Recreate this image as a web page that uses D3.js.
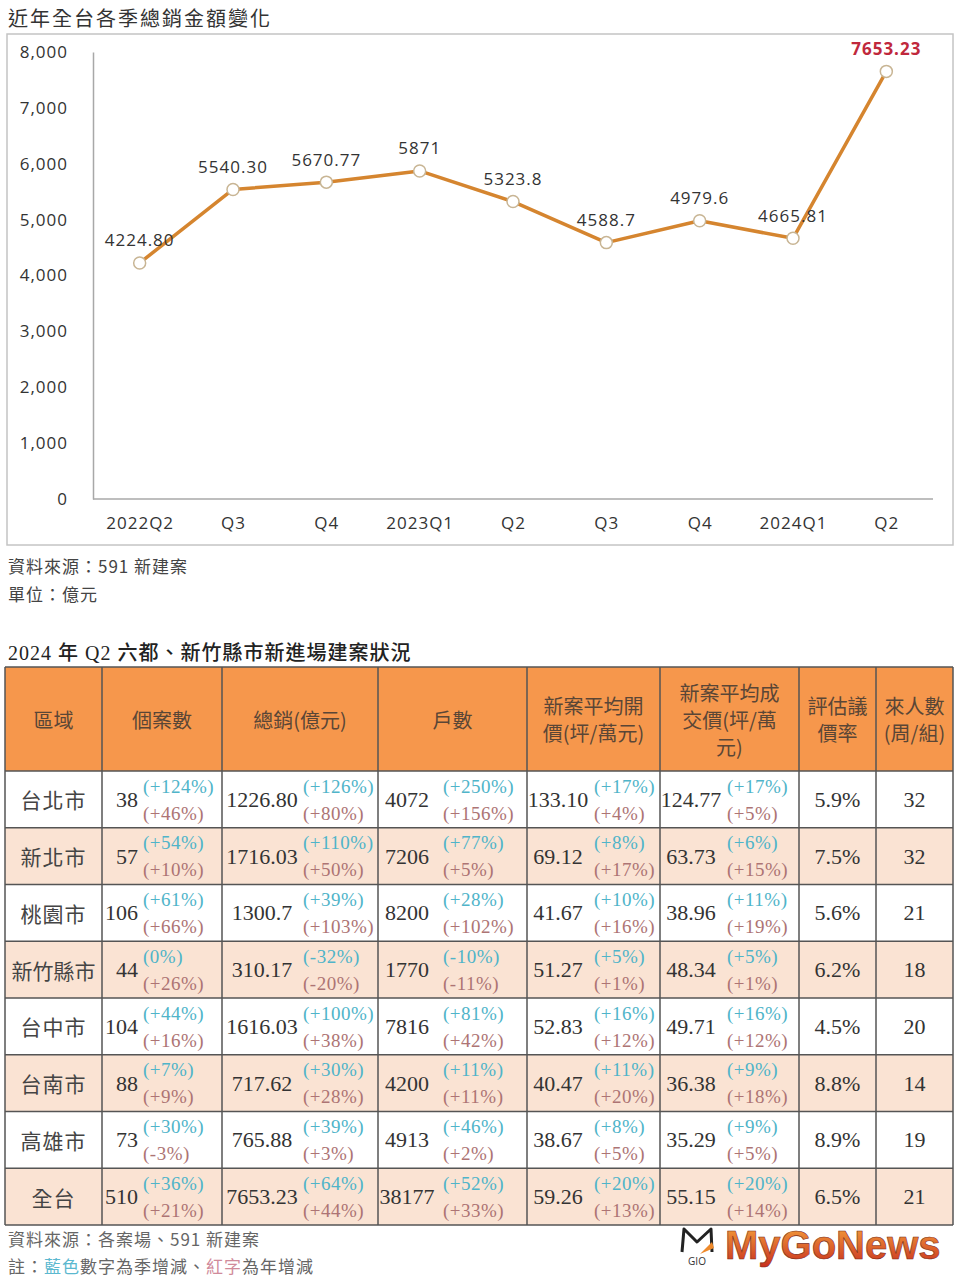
<!DOCTYPE html>
<html><head><meta charset="utf-8">
<script src="https://cdn.jsdelivr.net/npm/d3@7"></script>
<style>body{margin:0;background:#fff;} svg{display:block;}</style>
</head><body>
<script>
// ---------- data ----------
const quarterLabels = ['2022Q2','Q3','Q4','2023Q1','Q2','Q3','Q4','2024Q1','Q2'];
const totals = [4224.80, 5540.30, 5670.77, 5871, 5323.8, 4588.7, 4979.6, 4665.81, 7653.23];
const totalLabels = ['4224.80','5540.30','5670.77','5871','5323.8','4588.7','4979.6','4665.81','7653.23'];
const yTicks = [0,1000,2000,3000,4000,5000,6000,7000,8000];

const headers = [['區域'],['個案數'],['總銷(億元)'],['戶數'],['新案平均開','價(坪/萬元)'],['新案平均成','交價(坪/萬','元)'],['評估議','價率'],['來人數','(周/組)']];
const regions = ['台北市','新北市','桃園市','新竹縣市','台中市','台南市','高雄市','全台'];
const cases   = ['38','57','106','44','104','88','73','510'];
const casesQ  = ['+124%','+54%','+61%','0%','+44%','+7%','+30%','+36%'];
const casesY  = ['+46%','+10%','+66%','+26%','+16%','+9%','-3%','+21%'];
const sales   = ['1226.80','1716.03','1300.7','310.17','1616.03','717.62','765.88','7653.23'];
const salesQ  = ['+126%','+110%','+39%','-32%','+100%','+30%','+39%','+64%'];
const salesY  = ['+80%','+50%','+103%','-20%','+38%','+28%','+3%','+44%'];
const units   = ['4072','7206','8200','1770','7816','4200','4913','38177'];
const unitsQ  = ['+250%','+77%','+28%','-10%','+81%','+11%','+46%','+52%'];
const unitsY  = ['+156%','+5%','+102%','-11%','+42%','+11%','+2%','+33%'];
const openP   = ['133.10','69.12','41.67','51.27','52.83','40.47','38.67','59.26'];
const openQ   = ['+17%','+8%','+10%','+5%','+16%','+11%','+8%','+20%'];
const openY   = ['+4%','+17%','+16%','+1%','+12%','+20%','+5%','+13%'];
const dealP   = ['124.77','63.73','38.96','48.34','49.71','36.38','35.29','55.15'];
const dealQ   = ['+17%','+6%','+11%','+5%','+16%','+9%','+9%','+20%'];
const dealY   = ['+5%','+15%','+19%','+1%','+12%','+18%','+5%','+14%'];
const bargain = ['5.9%','7.5%','5.6%','6.2%','4.5%','8.8%','8.9%','6.5%'];
const visitors= ['32','32','21','18','20','14','19','21'];

// ---------- setup ----------
const CJK = '"Noto Sans CJK TC", "Noto Sans", sans-serif';
const SERIF = '"Liberation Serif", "Noto Sans CJK TC", serif';
const SANS = '"Open Sans", "Noto Sans CJK TC", sans-serif';
const svg = d3.select('body').append('svg').attr('width',960).attr('height',1280);

// ---------- chart ----------
svg.append('text').attr('x',8).attr('y',17).attr('dominant-baseline','central')
  .style('font-family',CJK).style('font-size','20px').style('letter-spacing','2px').attr('fill','#333')
  .text('近年全台各季總銷金額變化');
svg.append('rect').attr('x',7).attr('y',34).attr('width',946).attr('height',511)
  .attr('fill','#fff').attr('stroke','#c4c4c4').attr('stroke-width',1.5);

const x = d3.scalePoint().domain(d3.range(quarterLabels.length)).range([93,933]).padding(0.5);
const y = d3.scaleLinear().domain([0,8000]).range([499,52]);

const yAxis = svg.append('g').attr('transform','translate(93,0)')
  .call(d3.axisLeft(y).tickValues(yTicks).tickSize(0).tickPadding(25).tickFormat(d3.format(',')));
yAxis.select('.domain').attr('stroke','#a8a8a8').attr('stroke-width',1.5);
yAxis.selectAll('text').style('font-family',SANS).style('font-size','17px').style('letter-spacing','1px').attr('fill','#333');

const xAxis = svg.append('g').attr('transform','translate(0,499)')
  .call(d3.axisBottom(x).tickSize(0).tickPadding(18).tickFormat(i => quarterLabels[i]));
xAxis.select('.domain').attr('stroke','#a8a8a8').attr('stroke-width',1.5).attr('d','M93,0H933');
xAxis.selectAll('text').style('font-family',SANS).style('font-size','17px').style('letter-spacing','1px').attr('fill','#333');

const line = d3.line().x((d,i)=>x(i)).y(d=>y(d));
svg.append('path').datum(totals).attr('d',line).attr('fill','none')
  .attr('stroke','#d5852f').attr('stroke-width',3.5).attr('stroke-linejoin','round');
svg.append('g').selectAll('circle').data(totals).join('circle')
  .attr('cx',(d,i)=>x(i)).attr('cy',d=>y(d)).attr('r',6)
  .attr('fill','#fff').attr('stroke','#c8b594').attr('stroke-width',1.5);
svg.append('g').selectAll('text').data(totals).join('text')
  .attr('x',(d,i)=>x(i)).attr('y',d=>y(d)-23).attr('text-anchor','middle').attr('dominant-baseline','central')
  .style('font-family',SANS).style('font-size','17px').style('letter-spacing','1px')
  .style('font-weight',(d,i)=> i===totals.length-1 ? 'bold' : 'normal')
  .attr('fill',(d,i)=> i===totals.length-1 ? '#c0283c' : '#333')
  .text((d,i)=>totalLabels[i]);

svg.append('text').attr('x',8).attr('y',565).attr('dominant-baseline','central')
  .style('font-family',CJK).style('font-size','17px').style('letter-spacing','1px').attr('fill','#444')
  .text('資料來源：591 新建案');
svg.append('text').attr('x',8).attr('y',593).attr('dominant-baseline','central')
  .style('font-family',CJK).style('font-size','17px').style('letter-spacing','1px').attr('fill','#444')
  .text('單位：億元');

// ---------- table ----------
svg.append('text').attr('x',8).attr('y',653).attr('dominant-baseline','central')
  .style('font-family',SERIF).style('font-size','20px').style('font-weight','500').style('letter-spacing','1px').attr('fill','#222')
  .text('2024 年 Q2 六都、新竹縣市新進場建案狀況');

const colEdges = [5,102,222,378,527,660,799,876,953];
const tableTop = 667, headBottom = 771;
const rowY = d3.scaleLinear().domain([0,regions.length]).range([headBottom,1225]);
const rowH = rowY(1)-rowY(0);

// header
svg.append('rect').attr('x',colEdges[0]).attr('y',tableTop).attr('width',colEdges[8]-colEdges[0]).attr('height',headBottom-tableTop).attr('fill','#f6974c');
// row backgrounds
svg.append('g').selectAll('rect').data(regions).join('rect')
  .attr('x',colEdges[0]).attr('y',(d,i)=>rowY(i)).attr('width',colEdges[8]-colEdges[0]).attr('height',rowH)
  .attr('fill',(d,i)=> i%2 ? '#fae3d3' : '#fff');

// header text
headers.forEach((lines,c)=>{
  const cx = (colEdges[c]+colEdges[c+1])/2;
  const cy = (tableTop+headBottom)/2;
  const t = svg.append('text').attr('text-anchor','middle')
    .style('font-family',CJK).style('font-size','20px').attr('fill','#5a4636');
  lines.forEach((l,k)=>{
    t.append('tspan').attr('x',cx).attr('y',cy+(k-(lines.length-1)/2)*27).attr('dominant-baseline','central').text(l);
  });
});

// body
const body = svg.append('g');
regions.forEach((r,i)=>{
  const top = rowY(i);
  body.append('text').attr('x',(colEdges[0]+colEdges[1])/2).attr('y',top+rowH/2).attr('text-anchor','middle').attr('dominant-baseline','central')
    .style('font-family',CJK).style('font-size','21px').style('letter-spacing', r.length>3?'0px':'1px').attr('fill','#444').text(r);
});
const pctCols = [
  {main:cases, q:casesQ, yr:casesY, mx:138, anchor:'end', px:143},
  {main:sales, q:salesQ, yr:salesY, mx:262, anchor:'middle', px:303},
  {main:units, q:unitsQ, yr:unitsY, mx:407, anchor:'middle', px:443},
  {main:openP, q:openQ, yr:openY, mx:558, anchor:'middle', px:594},
  {main:dealP, q:dealQ, yr:dealY, mx:691, anchor:'middle', px:727}
];
pctCols.forEach(col=>{
  const g = body.append('g');
  g.selectAll('text.m').data(col.main).join('text').attr('class','m')
    .attr('x',col.mx).attr('y',(d,i)=>rowY(i)+rowH/2).attr('text-anchor',col.anchor).attr('dominant-baseline','central')
    .style('font-family',SERIF).style('font-size','22px').attr('fill','#333').text(d=>d);
  g.selectAll('text.q').data(col.q).join('text').attr('class','q')
    .attr('x',col.px).attr('y',(d,i)=>rowY(i)+15).attr('dominant-baseline','central')
    .style('font-family',SERIF).style('font-size','19px').style('letter-spacing','0.5px').attr('fill','#4fb4c9').text(d=>'('+d+')');
  g.selectAll('text.y').data(col.yr).join('text').attr('class','y')
    .attr('x',col.px).attr('y',(d,i)=>rowY(i)+42).attr('dominant-baseline','central')
    .style('font-family',SERIF).style('font-size','19px').style('letter-spacing','0.5px').attr('fill','#ad7474').text(d=>'('+d+')');
});
[[bargain,6],[visitors,7]].forEach(([arr,c])=>{
  body.append('g').selectAll('text').data(arr).join('text')
    .attr('x',(colEdges[c]+colEdges[c+1])/2).attr('y',(d,i)=>rowY(i)+rowH/2).attr('text-anchor','middle').attr('dominant-baseline','central')
    .style('font-family',SERIF).style('font-size','22px').attr('fill','#333').text(d=>d);
});

// grid lines
const grid = svg.append('g').attr('stroke','#555').attr('stroke-width',1.5);
grid.selectAll('line.v').data(colEdges).join('line').attr('class','v')
  .attr('x1',d=>d).attr('x2',d=>d).attr('y1',tableTop).attr('y2',rowY(regions.length));
grid.selectAll('line.h').data([tableTop].concat(d3.range(regions.length+1).map(i=>rowY(i)))).join('line').attr('class','h')
  .attr('x1',colEdges[0]).attr('x2',colEdges[8]).attr('y1',d=>d).attr('y2',d=>d);

// footer
svg.append('text').attr('x',8).attr('y',1238).attr('dominant-baseline','central')
  .style('font-family',CJK).style('font-size','17px').style('letter-spacing','1px').attr('fill','#666')
  .text('資料來源：各案場、591 新建案');
const note = svg.append('text').attr('x',8).attr('y',1265).attr('dominant-baseline','central')
  .style('font-family',CJK).style('font-size','17px').style('letter-spacing','1px').attr('fill','#666');
note.append('tspan').text('註：');
note.append('tspan').attr('fill','#5bb8cf').text('藍色');
note.append('tspan').text('數字為季增減、');
note.append('tspan').attr('fill','#d08a9a').text('紅字');
note.append('tspan').text('為年增減');

// logo
const defs = svg.append('defs');
const grad = defs.append('linearGradient').attr('id','lg').attr('x1',0).attr('y1',0).attr('x2',0).attr('y2',1);
grad.append('stop').attr('offset','0%').attr('stop-color','#f6a33c');
grad.append('stop').attr('offset','100%').attr('stop-color','#c8301f');
const logo = svg.append('g');
logo.append('path').attr('d','M682,1252 L684,1229 L697,1242 L711,1229 L712,1252')
  .attr('fill','none').attr('stroke','#222').attr('stroke-width',3).attr('stroke-linejoin','round');
logo.append('path').attr('d','M700,1254 L712,1242 L714,1248 Z').attr('fill','#ee8a2c');
logo.append('text').attr('x',697).attr('y',1261).attr('text-anchor','middle').attr('dominant-baseline','central')
  .style('font-family',SANS).style('font-size','10px').attr('fill','#333').text('GIO');
logo.append('text').attr('x',725).attr('y',1259)
  .style('font-family','"Liberation Sans", Arial, sans-serif').style('font-size','40px').style('font-weight','bold')
  .attr('fill','url(#lg)').attr('stroke','#7a2a18').attr('stroke-width',0.6).text('MyGoNews');
</script>
</body></html>
